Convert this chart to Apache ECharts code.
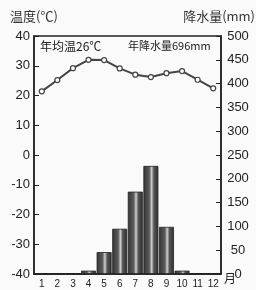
<!DOCTYPE html>
<html><head><meta charset="utf-8">
<script src="https://cdn.jsdelivr.net/npm/echarts@6/dist/echarts.min.js"></script>
<style>html,body{margin:0;padding:0;background:#fafafa}#c{width:256px;height:290px}</style>
</head><body><div id="c"></div>
<script>
const months = ['1','2','3','4','5','6','7','8','9','10','11','12'];
const temperature = [21.4, 25.2, 29.2, 32.0, 31.9, 29.1, 27.0, 26.2, 27.5, 28.2, 25.3, 22.4];
const precipitation = [1, 1, 1, 7, 46, 95, 173, 227, 99, 7, 1, 1];
const tempTicks = [-40, 40, 10];
const precTicks = [0, 500, 50];

const font = '"Noto Sans CJK SC", "Liberation Sans", sans-serif';
const chart = echarts.init(document.getElementById('c'), null, {renderer:'canvas'});
const barGrad = new echarts.graphic.LinearGradient(0,0,1,0,[
  {offset:0,color:'#333'},{offset:0.4,color:'#5c5c5c'},{offset:0.55,color:'#cfcfcf'},{offset:0.7,color:'#555'},{offset:1,color:'#2e2e2e'}]);
chart.setOption({
  backgroundColor:'#fafafa',
  animation:false,
  grid:{left:34,right:35,top:36,bottom:16,show:true,borderColor:'#222',borderWidth:1.5},
  xAxis:{type:'category',data:months,boundaryGap:true,
    axisLine:{onZero:false,lineStyle:{color:'#222',width:1.5}},axisTick:{show:false},
    axisLabel:{color:'#222',fontSize:10,margin:5,interval:0,fontFamily:'"Liberation Sans", sans-serif'}},
  yAxis:[
    {type:'value',min:tempTicks[0],max:tempTicks[1],interval:tempTicks[2],
     axisLine:{show:true,onZero:false,lineStyle:{color:'#222',width:1.5}},
     axisTick:{show:true,inside:true,length:5,lineStyle:{color:'#222'}},
     splitLine:{show:false},
     axisLabel:{color:'#222',fontSize:13,margin:4,fontFamily:'"Liberation Sans", sans-serif'}},
    {type:'value',min:precTicks[0],max:precTicks[1],interval:precTicks[2],position:'right',
     axisLine:{show:true,onZero:false,lineStyle:{color:'#222',width:1.5}},
     axisTick:{show:true,inside:true,length:5,lineStyle:{color:'#222'}},
     splitLine:{show:false},
     axisLabel:{color:'#222',fontSize:13,margin:17,align:'center',fontFamily:'"Liberation Sans", sans-serif'}}
  ],
  series:[
    {type:'bar',yAxisIndex:1,data:precipitation,barCategoryGap:'4%',
     itemStyle:{color:barGrad,borderColor:'#222',borderWidth:0.8}},
    {type:'line',yAxisIndex:0,data:temperature,symbol:'circle',symbolSize:5,
     lineStyle:{color:'#444',width:2},itemStyle:{color:'#fff',borderColor:'#444',borderWidth:1.2},z:5}
  ],
  graphic:[
    {type:'text',left:10,top:10,style:{text:'温度(℃)',fill:'#333',font:'13px '+font}},
    {type:'text',right:1,top:10,style:{text:'降水量(mm)',fill:'#333',font:'13px '+font}},
    {type:'text',left:40,top:40,style:{text:'年均温26℃',fill:'#222',font:'12px '+font}},
    {type:'text',left:128,top:40,style:{text:'年降水量696mm',fill:'#222',font:'11px '+font}},
    {type:'text',left:224,top:272,style:{text:'月',fill:'#222',font:'12px '+font}}
  ]
});
</script></body></html>
